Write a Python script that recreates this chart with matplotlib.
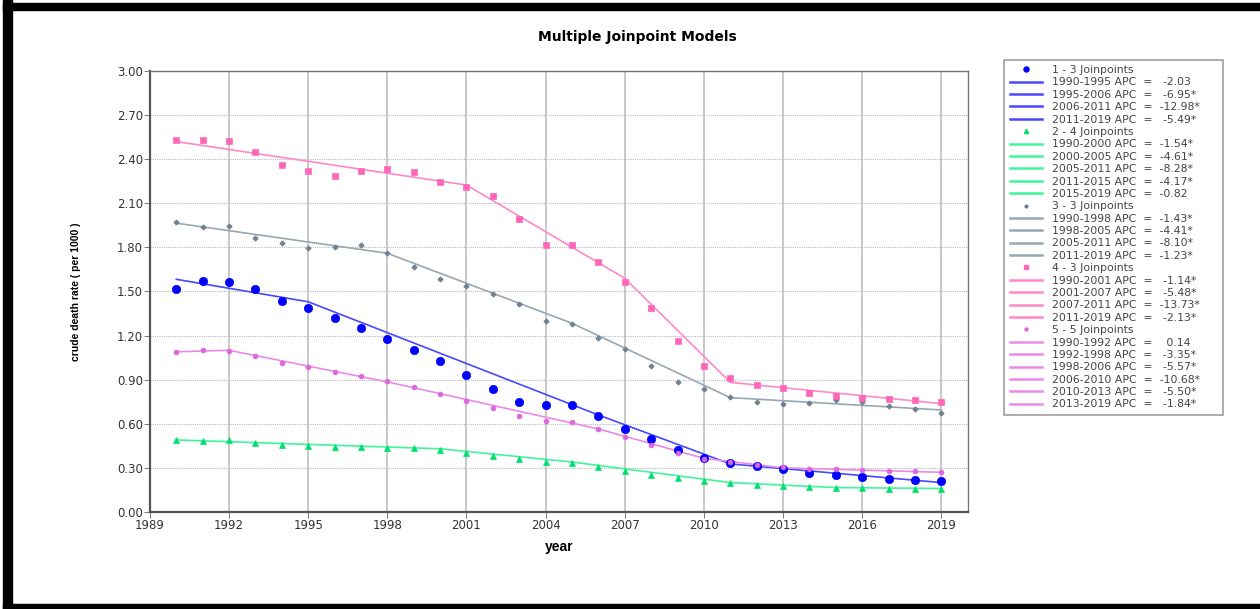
import matplotlib
matplotlib.use('Agg')
import matplotlib.pyplot as plt
from matplotlib.lines import Line2D
from matplotlib.patches import Rectangle
import numpy as np

years = list(range(1990, 2020))

# observed crude death rates (per 1000)
obs1 = [1.52, 1.57, 1.565, 1.52, 1.435, 1.39, 1.32, 1.25, 1.175, 1.10, 1.03, 0.935,
        0.835, 0.75, 0.725, 0.73, 0.655, 0.565, 0.495, 0.425, 0.365, 0.33, 0.31,
        0.29, 0.265, 0.25, 0.235, 0.222, 0.218, 0.213]
obs2 = [0.492, 0.485, 0.488, 0.47, 0.458, 0.449, 0.444, 0.442, 0.435, 0.437, 0.424, 0.399,
        0.383, 0.36, 0.342, 0.331, 0.304, 0.28, 0.253, 0.228, 0.21, 0.197, 0.185,
        0.179, 0.168, 0.163, 0.16, 0.159, 0.159, 0.156]
obs3 = [1.975, 1.94, 1.943, 1.864, 1.83, 1.795, 1.803, 1.816, 1.76, 1.665, 1.587, 1.54,
        1.483, 1.413, 1.302, 1.277, 1.181, 1.107, 0.993, 0.884, 0.835, 0.78, 0.746,
        0.737, 0.739, 0.76, 0.746, 0.723, 0.698, 0.676]
obs4 = [2.528, 2.528, 2.524, 2.45, 2.358, 2.32, 2.288, 2.322, 2.333, 2.315, 2.245, 2.21,
        2.147, 1.996, 1.814, 1.814, 1.70, 1.565, 1.385, 1.16, 0.99, 0.914, 0.862,
        0.844, 0.812, 0.792, 0.778, 0.767, 0.762, 0.748]
obs5 = [1.088, 1.10, 1.098, 1.061, 1.016, 0.986, 0.955, 0.927, 0.889, 0.848, 0.805, 0.755,
        0.705, 0.655, 0.621, 0.61, 0.562, 0.508, 0.456, 0.404, 0.361, 0.34, 0.322,
        0.304, 0.295, 0.293, 0.284, 0.281, 0.277, 0.272]

# fitted values at the joinpoints
jp1_x = [1990, 1995, 2006, 2011, 2019]
jp1_y = [1.583, 1.43, 0.66, 0.327, 0.20]
jp2_x = [1990, 2000, 2005, 2011, 2015, 2019]
jp2_y = [0.49, 0.43, 0.34, 0.20, 0.166, 0.16]
jp3_x = [1990, 1998, 2005, 2011, 2019]
jp3_y = [1.965, 1.76, 1.284, 0.778, 0.694]
jp4_x = [1990, 2001, 2007, 2011, 2019]
jp4_y = [2.52, 2.224, 1.59, 0.882, 0.737]
jp5_x = [1990, 1992, 1998, 2006, 2010, 2013, 2019]
jp5_y = [1.09, 1.10, 0.885, 0.565, 0.365, 0.30, 0.27]

apc1 = ['1990-1995 APC  =   -2.03', '1995-2006 APC  =   -6.95*',
        '2006-2011 APC  =  -12.98*', '2011-2019 APC  =   -5.49*']
apc2 = ['1990-2000 APC  =  -1.54*', '2000-2005 APC  =  -4.61*', '2005-2011 APC  =  -8.28*',
        '2011-2015 APC  =  -4.17*', '2015-2019 APC  =  -0.82']
apc3 = ['1990-1998 APC  =  -1.43*', '1998-2005 APC  =  -4.41*',
        '2005-2011 APC  =  -8.10*', '2011-2019 APC  =  -1.23*']
apc4 = ['1990-2001 APC  =   -1.14*', '2001-2007 APC  =   -5.48*',
        '2007-2011 APC  =  -13.73*', '2011-2019 APC  =   -2.13*']
apc5 = ['1990-1992 APC  =    0.14', '1992-1998 APC  =   -3.35*', '1998-2006 APC  =   -5.57*',
        '2006-2010 APC  =  -10.68*', '2010-2013 APC  =   -5.50*', '2013-2019 APC  =   -1.84*']

models = [
    ('1 - 3 Joinpoints', obs1, jp1_x, jp1_y, apc1, 'o', 6, '#0000ff', '#4848ff'),
    ('2 - 4 Joinpoints', obs2, jp2_x, jp2_y, apc2, '^', 5, '#00e070', '#40f59a'),
    ('3 - 3 Joinpoints', obs3, jp3_x, jp3_y, apc3, 'P', 3.5, '#6f7f8f', '#97a6b3'),
    ('4 - 3 Joinpoints', obs4, jp4_x, jp4_y, apc4, 's', 4.5, '#ff66b8', '#ff88c8'),
    ('5 - 5 Joinpoints', obs5, jp5_x, jp5_y, apc5, 'o', 3.5, '#dd66dd', '#e98ae9'),
]

fig = plt.figure(figsize=(12.6, 6.09), dpi=100)
ax = fig.add_axes([0.119, 0.1593, 0.649, 0.7241])

handles = []
for name, obs, jx, jy, apc, mk, ms, mcol, lcol in models:
    ax.plot(years, obs, linestyle='none', marker=mk, markersize=ms,
            color=mcol, markeredgewidth=0.5, zorder=3)
    ax.plot(jx, jy, color=lcol, linewidth=1.2, zorder=2)
    handles.append(Line2D([], [], linestyle='none', marker=mk, markersize=ms * 0.6,
                          color=mcol, label=name))
    for a in apc:
        handles.append(Line2D([], [], color=lcol, linewidth=1.8, label=a))

ax.set_xlim(1989, 2020)
ax.set_ylim(0, 3.0)
ax.set_xticks(np.arange(1989, 2020, 3))
ax.set_yticks(np.arange(0, 3.01, 0.3))
ax.set_yticklabels(['%.2f' % v for v in np.arange(0, 3.01, 0.3)])

for lab in ax.get_xticklabels() + ax.get_yticklabels():
    lab.set_fontsize(8.5)
ax.tick_params(length=4, width=0.6, colors='#666666', labelcolor='#333333', pad=1)

ax.xaxis.grid(True, color='#c8c8c8', linewidth=1.4, linestyle='-')
ax.yaxis.grid(True, color='#b8b8b8', linewidth=0.8, linestyle=(0, (1, 1)))
ax.set_axisbelow(True)
for side in ['left', 'bottom']:
    ax.spines[side].set_linewidth(1.6)
    ax.spines[side].set_color('#555555')
for side in ['right', 'top']:
    ax.spines[side].set_linewidth(1.0)
    ax.spines[side].set_color('#777777')

fig.text(0.506, 0.94, 'Multiple Joinpoint Models', fontsize=10, fontweight='bold',
         ha='center', va='center')
ax.set_xlabel('year', fontsize=10, fontweight='bold', family='Liberation Sans', labelpad=6)
ax.set_ylabel('crude death rate ( per 1000 )', fontsize=7.5, fontweight='bold',
              family='Liberation Sans', labelpad=26)

leg = fig.legend(handles=handles, loc='upper left', bbox_to_anchor=(0.797, 0.30, 0.174, 0.602),
                 mode='expand', fontsize=7.8, frameon=True, fancybox=False, handlelength=3.0,
                 handletextpad=0.9, labelspacing=0.22, borderpad=0.5,
                 borderaxespad=0)
leg.get_frame().set_edgecolor('#888888')
leg.get_frame().set_linewidth(1.2)
for t in leg.get_texts():
    t.set_color('#444444')

# black frame around the picture (left, top, bottom)
fig.patches.append(Rectangle((0.0024, 0.0), 0.0071, 1.0, transform=fig.transFigure,
                             color='black', zorder=10))
fig.patches.append(Rectangle((0.0024, 0.9835), 0.9976, 0.0115, transform=fig.transFigure,
                             color='black', zorder=10))
fig.patches.append(Rectangle((0.0024, 0.0), 0.9976, 0.009, transform=fig.transFigure,
                             color='black', zorder=10))

fig.savefig('out.png', dpi=100)
